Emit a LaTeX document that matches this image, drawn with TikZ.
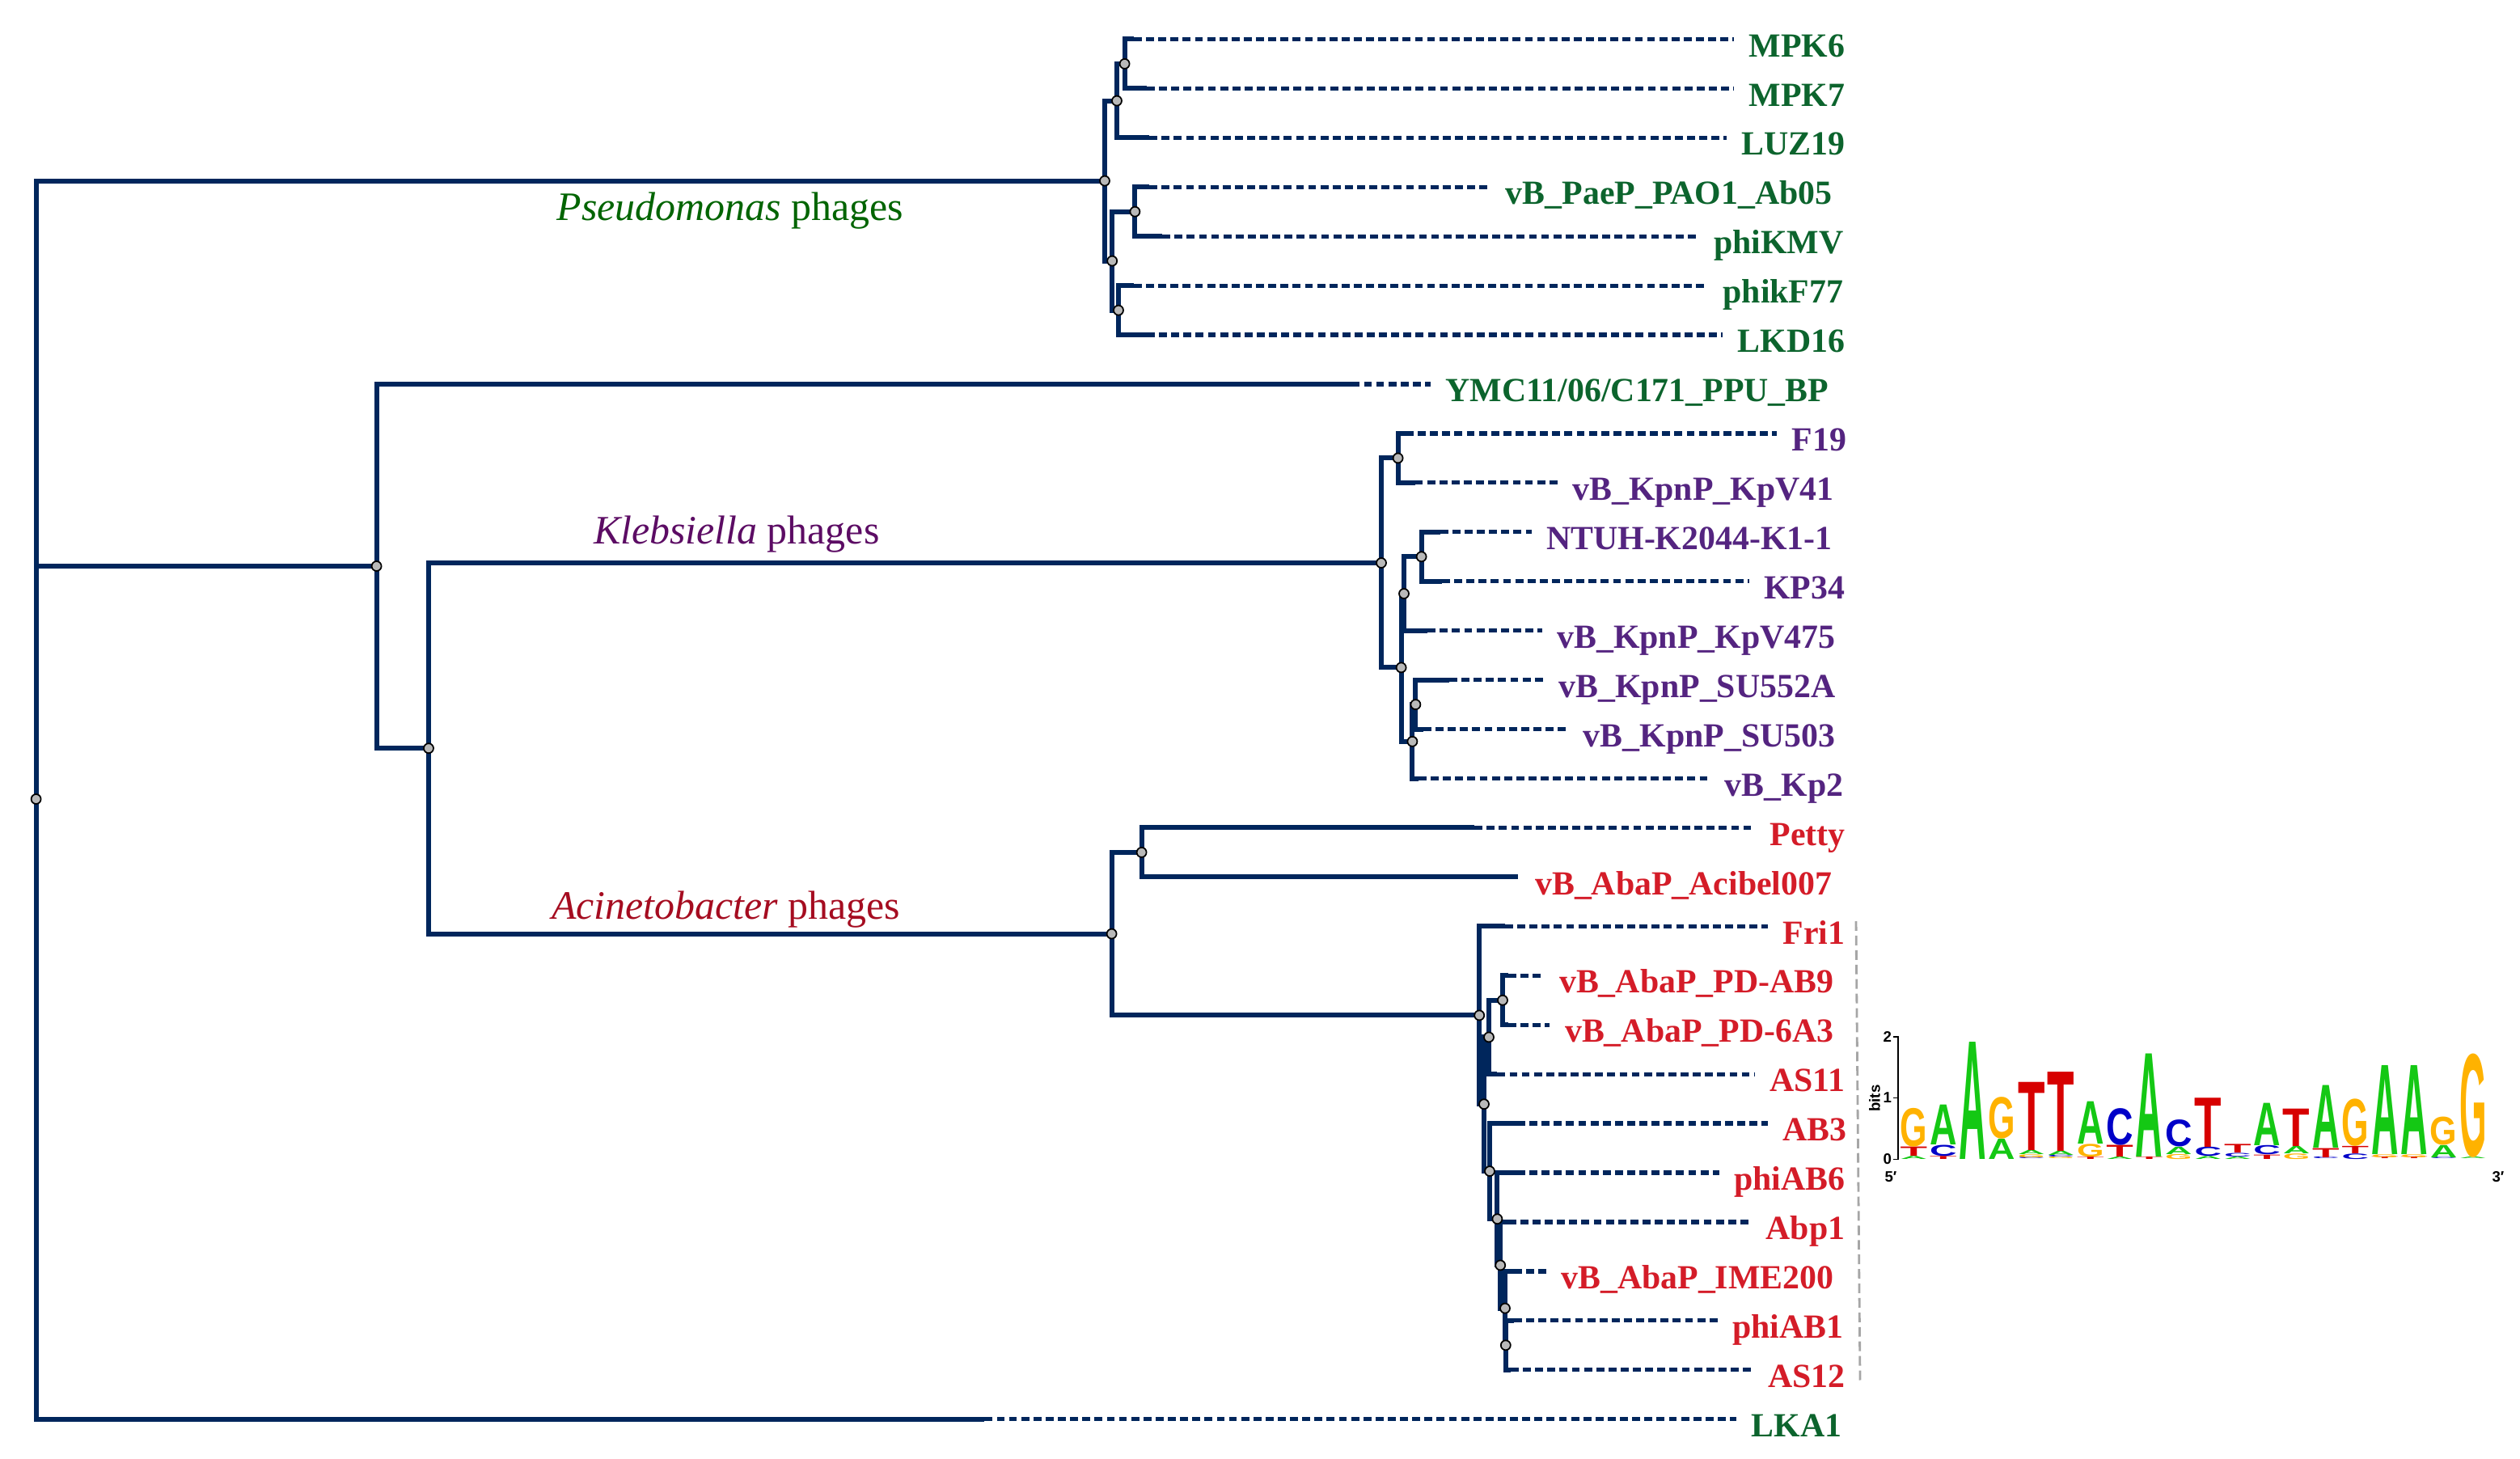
\documentclass[tikz,border=0pt]{standalone}
\usepackage{fontspec}
\usepackage{graphicx}
\setmainfont{Liberation Serif}
\newfontfamily\logofont{Liberation Sans}
\definecolor{navy}{RGB}{0,38,92}
\definecolor{greenlab}{RGB}{12,100,45}
\definecolor{purplab}{RGB}{84,36,128}
\definecolor{redlab}{RGB}{212,28,40}
\definecolor{pstxt}{RGB}{0,100,0}
\definecolor{kltxt}{RGB}{92,12,100}
\definecolor{actxt}{RGB}{165,12,32}
\definecolor{lgA}{RGB}{20,200,20}
\definecolor{lgC}{RGB}{0,0,200}
\definecolor{lgG}{RGB}{255,178,0}
\definecolor{lgT}{RGB}{215,0,0}
\tikzset{
  br/.style={draw=navy, line width=1.7pt},
  dl/.style={draw=navy, line width=1.5pt, dash pattern=on 2.8pt off 1.5pt, shorten >=1.8mm},
  dot/.style={circle, fill=gray!55, draw=black, line width=0.5pt, inner sep=0pt, minimum size=1.2mm},
  lab/.style={inner sep=0pt, anchor=base east, font=\fontsize{11.9}{14}\selectfont\bfseries},
  clade/.style={inner sep=0pt, anchor=base west, font=\fontsize{14.2}{17}\selectfont},
  axl/.style={inner sep=0pt, font=\logofont\bfseries\fontsize{5.3}{6}\selectfont},
}
\newcommand\logocol[2]{%
  \gdef\lgbase{0}%
  \foreach \L/\H in {#2} {%
    \pgfmathsetlengthmacro\lgh{\H*7.59mm}%
    \node[inner sep=0pt, outer sep=0pt, anchor=south west] (lg#1\L) at ({1174.8+18.2*(#1-1)}, {716.7-37.95*\lgbase}) {\resizebox*{3.35mm}{\lgh}{\logofont\bfseries\textcolor{lg\L}{\L}}};%
    \pgfmathsetmacro\lgtmp{\lgbase+\H}%
    \xdef\lgbase{\lgtmp}%
  }%
}
\begin{document}
\begin{tikzpicture}[x=0.02cm,y=-0.02cm]
\useasboundingbox (0,0) rectangle (1558,901.5);

% ---------- internal nodes ----------
\coordinate (R) at (22.3,494);
\coordinate (P) at (683,111.8);
\coordinate (P1) at (690.5,62.3);
\coordinate (P3) at (695.3,39.45);
\coordinate (P2) at (687.6,161.3);
\coordinate (P4) at (701.7,130.85);
\coordinate (P5) at (691.5,191.8);
\coordinate (M) at (232.8,350);
\coordinate (N) at (265,462.6);
\coordinate (K) at (854,348);
\coordinate (K1) at (864.3,283.2);
\coordinate (K2) at (866.3,412.7);
\coordinate (K3) at (868,367);
\coordinate (K4) at (878.8,344.15);
\coordinate (K5) at (873.2,458.4);
\coordinate (K6) at (875.2,435.55);
\coordinate (A0) at (687.3,577.3);
\coordinate (A1) at (705.8,526.95);
\coordinate (A2) at (914.6,627.7);
\coordinate (A3) at (917.5,682.6);
\coordinate (A4) at (920.5,641.2);
\coordinate (A5) at (929,618.35);
\coordinate (A6) at (921,724.05);
\coordinate (A7) at (925.7,753.6);
\coordinate (A8) at (927.6,782.2);
\coordinate (A9) at (930.5,808.8);
\coordinate (A10) at (930.9,831.65);

% ---------- leaf labels ----------
\node[lab,text=greenlab] (lMPK6) at (1141,35.0) {MPK6};
\node[lab,text=greenlab] (lMPK7) at (1141,65.5) {MPK7};
\node[lab,text=greenlab] (lLUZ19) at (1141,95.9) {LUZ19};
\node[lab,text=greenlab] (lAb05) at (1133,126.4) {vB\_PaeP\_PAO1\_Ab05};
\node[lab,text=greenlab] (lphiKMV) at (1140,156.9) {phiKMV};
\node[lab,text=greenlab] (lphikF77) at (1140,187.4) {phikF77};
\node[lab,text=greenlab] (lLKD16) at (1141,217.8) {LKD16};
\node[lab,text=greenlab] (lYMC) at (1131,248.3) {YMC11/06/C171\_PPU\_BP};
\node[lab,text=purplab] (lF19) at (1142,278.8) {F19};
\node[lab,text=purplab] (lKpV41) at (1134,309.2) {vB\_KpnP\_KpV41};
\node[lab,text=purplab] (lNTUH) at (1133,339.7) {NTUH-K2044-K1-1};
\node[lab,text=purplab] (lKP34) at (1141,370.2) {KP34};
\node[lab,text=purplab] (lKpV475) at (1135,400.6) {vB\_KpnP\_KpV475};
\node[lab,text=purplab] (lSU552A) at (1135,431.1) {vB\_KpnP\_SU552A};
\node[lab,text=purplab] (lSU503) at (1135,461.6) {vB\_KpnP\_SU503};
\node[lab,text=purplab] (lKp2) at (1140,492.1) {vB\_Kp2};
\node[lab,text=redlab] (lPetty) at (1141,522.5) {Petty};
\node[lab,text=redlab] (lAcibel) at (1133,553.0) {vB\_AbaP\_Acibel007};
\node[lab,text=redlab] (lFri1) at (1141,583.5) {Fri1};
\node[lab,text=redlab] (lPDAB9) at (1134,613.9) {vB\_AbaP\_PD-AB9};
\node[lab,text=redlab] (lPD6A3) at (1134,644.4) {vB\_AbaP\_PD-6A3};
\node[lab,text=redlab] (lAS11) at (1141,674.9) {AS11};
\node[lab,text=redlab] (lAB3) at (1142,705.3) {AB3};
\node[lab,text=redlab] (lphiAB6) at (1141,735.8) {phiAB6};
\node[lab,text=redlab] (lAbp1) at (1141,766.3) {Abp1};
\node[lab,text=redlab] (lIME200) at (1134,796.8) {vB\_AbaP\_IME200};
\node[lab,text=redlab] (lphiAB1) at (1140,827.2) {phiAB1};
\node[lab,text=redlab] (lAS12) at (1141,857.7) {AS12};
\node[lab,text=greenlab] (lLKA1) at (1139,888.2) {LKA1};

% ---------- leaf solid ends ----------
\coordinate (sMPK6) at (701,24.2);
\coordinate (sMPK7) at (709,54.7);
\coordinate (sLUZ19) at (710.6,85.1);
\coordinate (sAb05) at (710.6,115.6);
\coordinate (sphiKMV) at (718.6,146.1);
\coordinate (sphikF77) at (701,176.6);
\coordinate (sLKD16) at (709,207.0);
\coordinate (sYMC) at (835.7,237.5);
\coordinate (sF19) at (869,268.0);
\coordinate (sKpV41) at (874.8,298.4);
\coordinate (sNTUH) at (890.4,328.9);
\coordinate (sKP34) at (891.5,359.4);
\coordinate (sKpV475) at (882.6,389.8);
\coordinate (sSU552A) at (896,420.3);
\coordinate (sSU503) at (880,450.8);
\coordinate (sKp2) at (877,481.3);
\coordinate (sPetty) at (911.6,511.7);
\coordinate (sAcibel) at (938.7,542.2);
\coordinate (sFri1) at (930.5,572.7);
\coordinate (sPDAB9) at (932.4,603.1);
\coordinate (sPD6A3) at (932.4,633.6);
\coordinate (sAS11) at (925.7,664.1);
\coordinate (sAB3) at (938,694.5);
\coordinate (sphiAB6) at (938,725.0);
\coordinate (sAbp1) at (932.4,755.5);
\coordinate (sIME200) at (936,786.0);
\coordinate (sphiAB1) at (936,816.4);
\coordinate (sAS12) at (934,846.9);
\coordinate (sLKA1) at (608.7,877.4);

% ---------- dashed extensions ----------
\foreach \n in {MPK6,MPK7,LUZ19,Ab05,phiKMV,phikF77,LKD16,YMC,F19,KpV41,NTUH,KP34,KpV475,SU552A,SU503,Kp2,Petty,Fri1,PDAB9,PD6A3,AS11,AB3,phiAB6,Abp1,IME200,phiAB1,AS12,LKA1}
  \draw[dl] (s\n) -- (s\n -| l\n.west);

% ---------- tree ----------
\draw[br] (P) -| (R) |- (sLKA1);
\draw[br] (M) -| (R);
\draw[br] (sYMC) -| (M) |- (N);
\draw[br] (K) -| (N) |- (A0);
\draw[br] (P1) -| (P) |- (P2);
\draw[br] (P3) -| (P1) |- (sLUZ19);
\draw[br] (sMPK6) -| (P3) |- (sMPK7);
\draw[br] (P4) -| (P2) |- (P5);
\draw[br] (sAb05) -| (P4) |- (sphiKMV);
\draw[br] (sphikF77) -| (P5) |- (sLKD16);
\draw[br] (K1) -| (K) |- (K2);
\draw[br] (sF19) -| (K1) |- (sKpV41);
\draw[br] (K3) -| (K2) |- (K5);
\draw[br] (K4) -| (K3) |- (sKpV475);
\draw[br] (sNTUH) -| (K4) |- (sKP34);
\draw[br] (K6) -| (K5) |- (sKp2);
\draw[br] (sSU552A) -| (K6) |- (sSU503);
\draw[br] (A1) -| (A0) |- (A2);
\draw[br] (sPetty) -| (A1) |- (sAcibel);
\draw[br] (sFri1) -| (A2) |- (A3);
\draw[br] (A4) -| (A3) |- (A6);
\draw[br] (A5) -| (A4) |- (sAS11);
\draw[br] (sPDAB9) -| (A5) |- (sPD6A3);
\draw[br] (sAB3) -| (A6) |- (A7);
\draw[br] (sphiAB6) -| (A7) |- (A8);
\draw[br] (sAbp1) -| (A8) |- (A9);
\draw[br] (sIME200) -| (A9) |- (A10);
\draw[br] (sphiAB1) -| (A10) |- (sAS12);

% ---------- node dots ----------
\foreach \n in {R,P,P1,P2,P3,P4,P5,M,N,K,K1,K2,K3,K4,K5,K6,A0,A1,A2,A3,A4,A5,A6,A7,A8,A9,A10}
  \node[dot] (d\n) at (\n) {};

% ---------- clade labels ----------
\node[clade,text=pstxt] (cP) at (344,136.3) {\textit{Pseudomonas} phages};
\node[clade,text=kltxt] (cK) at (366.7,336.3) {\textit{Klebsiella} phages};
\node[clade,text=actxt] (cA) at (340.8,568.3) {\textit{Acinetobacter} phages};

% ---------- grey dashed bracket ----------
\draw[gray!70, line width=0.8pt, dash pattern=on 3.4pt off 1.7pt] (1147.5,569.5) -- (1150,854);

% ---------- sequence logo ----------
\draw[black, line width=0.5pt] (1170.5,640.8) -- (1173.3,640.8) -- (1173.3,716.7) -- (1170.5,716.7);
\draw[black, line width=0.5pt] (1170.5,678.75) -- (1173.3,678.75);
\node[axl, anchor=east] (ax2) at (1169.8,640.8) {2};
\node[axl, anchor=east] (ax1) at (1169.8,678.75) {1};
\node[axl, anchor=east] (ax0) at (1169.8,716.7) {0};
\node[axl, rotate=90] (axbits) at (1159,679) {bits};
\node[axl] (ax5) at (1169,727.5) {5\char"2032};
\node[axl] (ax3) at (1544.5,727.5) {3\char"2032};

\logocol{1}{A/0.05,T/0.15,G/0.63}
\logocol{2}{T/0.05,C/0.18,A/0.65}
\logocol{3}{A/1.91}
\logocol{4}{A/0.33,G/0.68}
\logocol{5}{C/0.03,G/0.05,A/0.07,T/1.11}
\logocol{6}{G/0.03,C/0.03,A/0.07,T/1.29}
\logocol{7}{T/0.04,G/0.21,A/0.69}
\logocol{8}{A/0.04,T/0.19,C/0.60}
\logocol{9}{T/0.04,A/1.68}
\logocol{10}{G/0.08,A/0.12,C/0.44}
\logocol{11}{A/0.05,C/0.15,T/0.80}
\logocol{12}{A/0.04,C/0.06,T/0.14}
\logocol{13}{T/0.07,C/0.15,A/0.69}
\logocol{14}{G/0.09,A/0.12,T/0.61}
\logocol{15}{C/0.03,T/0.15,A/1.02}
\logocol{16}{C/0.09,T/0.12,G/0.77}
\logocol{17}{T/0.03,G/0.05,A/1.45}
\logocol{18}{T/0.03,G/0.05,A/1.45}
\logocol{19}{C/0.03,A/0.20,G/0.46}
\logocol{20}{A/0.03,G/1.69}
\end{tikzpicture}
\end{document}
